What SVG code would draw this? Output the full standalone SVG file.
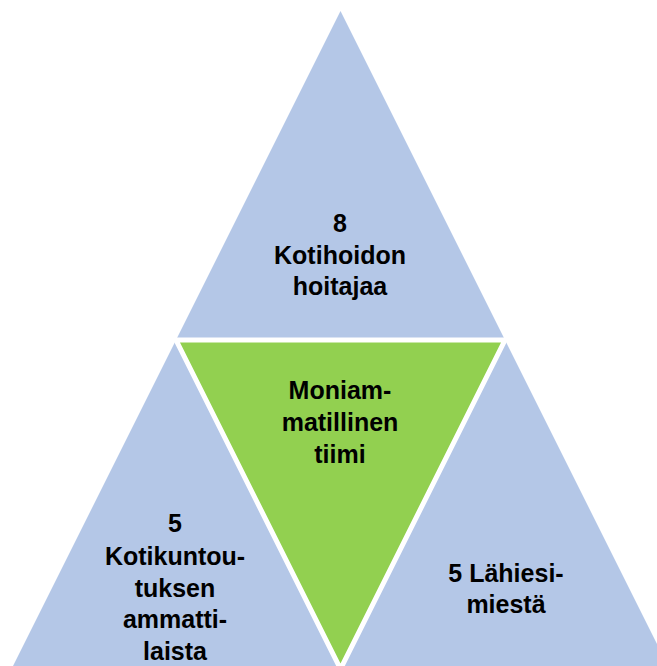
<svg xmlns="http://www.w3.org/2000/svg" width="657" height="666" viewBox="0 0 657 666">
  <style>
    .side { fill: #B4C7E7; }
    .core { fill: #92D050; stroke: #FFFFFF; stroke-width: 5; stroke-linejoin: miter; }
    .label { font-family: "Liberation Sans", Arial, sans-serif; font-weight: bold; font-size: 25px; fill: #000000; text-anchor: middle; }
  </style>
  <rect width="657" height="666" fill="#FFFFFF"/>

  <!-- outer triangle split into four parts -->
  <g id="top-kotihoito">
    <polygon class="side" points="340.5,11 176,340 505,340"/>
    <text class="label" x="340" y="232">8</text>
    <text class="label" x="340" y="264">Kotihoidon</text>
    <text class="label" x="340" y="295">hoitajaa</text>
  </g>

  <g id="left-kotikuntoutus">
    <polygon class="side" points="176,340 11.5,669 340.5,669"/>
    <text class="label" x="175" y="532">5</text>
    <text class="label" x="175" y="565">Kotikuntou-</text>
    <text class="label" x="175" y="597">tuksen</text>
    <text class="label" x="175" y="628">ammatti-</text>
    <text class="label" x="175" y="660">laista</text>
  </g>

  <g id="right-lahiesimiehet">
    <polygon class="side" points="505,340 340.5,669 669.5,669"/>
    <text class="label" x="506" y="582">5 Lähiesi-</text>
    <text class="label" x="506" y="613">miestä</text>
  </g>

  <g id="center-tiimi">
    <polygon class="core" points="176,340 505,340 340.5,669"/>
    <text class="label" x="340" y="399">Moniam-</text>
    <text class="label" x="340" y="431">matillinen</text>
    <text class="label" x="340" y="463">tiimi</text>
  </g>

  <g id="connectors"/>
</svg>
